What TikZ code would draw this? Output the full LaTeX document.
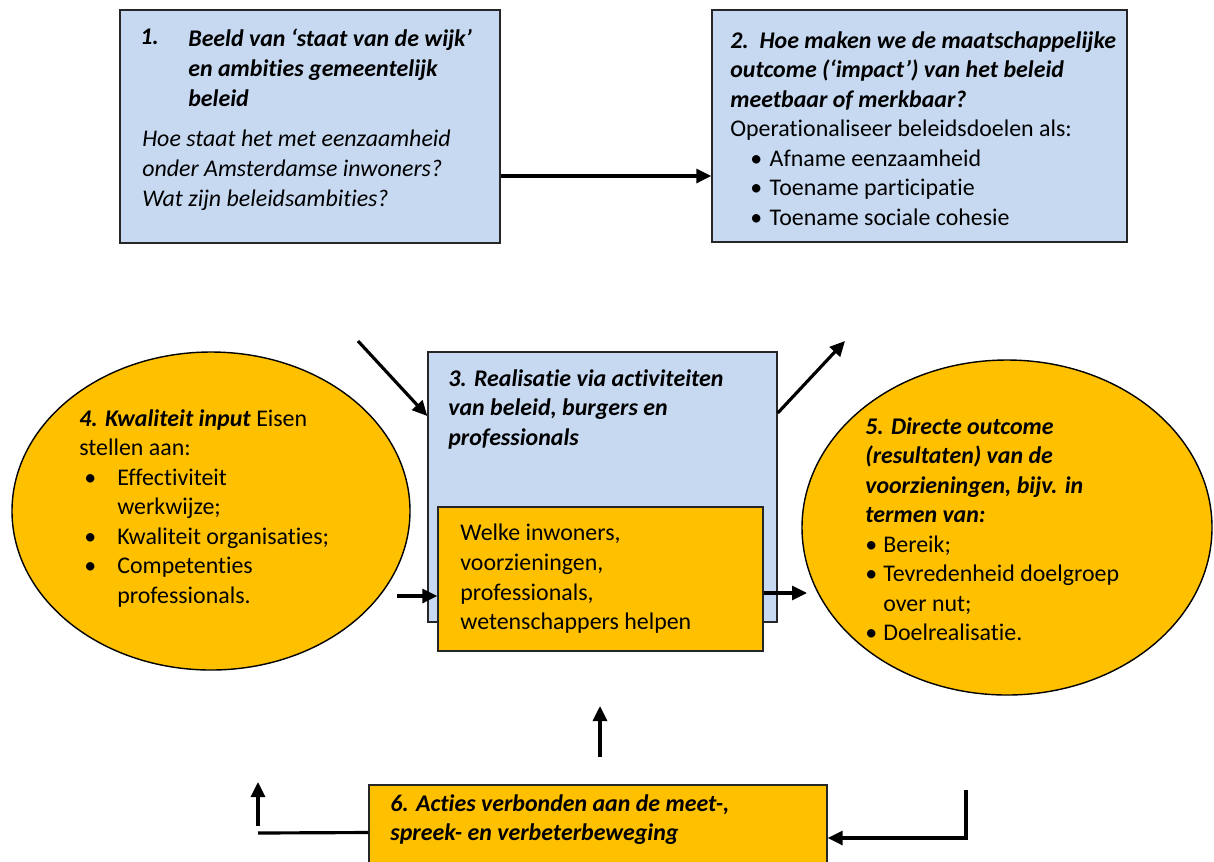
\documentclass[tikz,border=0pt]{standalone}
\usepackage{fontspec}
\setmainfont{Carlito}[Ligatures=CommonOff]
\usepackage{xcolor}
\definecolor{boxblue}{RGB}{198,217,241}
\definecolor{boxgold}{RGB}{255,192,0}
\usetikzlibrary{arrows.meta,positioning,shapes.geometric,calc}

\newcommand{\fs}{\fontsize{13.6}{16.8}\selectfont}
\newcommand{\hd}[1]{\textbf{\textit{#1}}}

\begin{document}
\begin{tikzpicture}[
    bluebox/.style={rectangle, draw=black!85, fill=boxblue, line width=0.8pt},
    goldbox/.style={rectangle, draw=black!85, fill=boxgold, line width=0.8pt},
    oval/.style={ellipse, draw=black, fill=boxgold, line width=0.8pt},
    txt/.style={anchor=north west, inner sep=0pt, align=left, font=\fs},
    arr/.style={line width=1.8pt, -{Triangle[length=0.3cm,width=0.28cm]}},
    lin/.style={line width=1.8pt}
  ]
    \useasboundingbox (0,0) rectangle (24.28,-17.22);

    % Shapes
    \node[bluebox, minimum width=7.6cm, minimum height=4.66cm] (b1) at (6.2,-2.53) {};
    \node[bluebox, minimum width=8.3cm, minimum height=4.64cm] (b2) at (18.39,-2.52) {};
    \node[bluebox, minimum width=6.98cm, minimum height=5.4cm] (b3) at (12.05,-9.74) {};
    \node[goldbox, minimum width=6.5cm, minimum height=2.88cm] (inner) at (12.01,-11.58) {};
    \node[oval, minimum width=7.96cm, minimum height=6.36cm] (e4) at (4.22,-10.22) {};
    \node[oval, minimum width=8.2cm, minimum height=6.7cm] (e5) at (20.14,-10.55) {};
    \node[goldbox, minimum width=9.16cm, minimum height=1.9cm] (b6) at (11.96,-16.65) {};

    % Texts
    \node[txt] (t1n) at (2.8,-0.58) {\hd{1.}};
    \node[txt] (t1) at (3.76,-0.58) {\hd{Beeld van `staat van de wijk'}\\
      \hd{en ambities gemeentelijk}\\ \hd{beleid}};
    \node[txt] (t1q) at (2.84,-2.6) {\textit{Hoe staat het met eenzaamheid}\\
      \textit{onder Amsterdamse inwoners?}\\ \textit{Wat zijn beleidsambities?}};
    \node[txt] (t2) at (14.6,-0.62) {\hd{2.\ \ Hoe maken we de maatschappelijke}\\
      \hd{outcome (`impact') van het beleid}\\ \hd{meetbaar of merkbaar?}\\
      Operationaliseer beleidsdoelen als:\\
      \hspace*{0.4cm}\textbullet\hspace{0.15cm}Afname eenzaamheid\\
      \hspace*{0.4cm}\textbullet\hspace{0.15cm}Toename participatie\\
      \hspace*{0.4cm}\textbullet\hspace{0.15cm}Toename sociale cohesie};
    \node[txt] (t3) at (8.96,-7.38) {\hd{3. Realisatie via activiteiten}\\
      \hd{van beleid, burgers en}\\ \hd{professionals}};
    \node[txt] (tin) at (9.2,-10.48) {Welke inwoners,\\ voorzieningen,\\
      professionals,\\ wetenschappers helpen};
    \node[txt] (t4) at (1.58,-8.18) {\hd{4. Kwaliteit input} Eisen\\ stellen aan:\\
      \hspace*{0.1cm}\makebox[0.66cm][l]{\textbullet}Effectiviteit\\
      \hspace*{0.76cm}werkwijze;\\
      \hspace*{0.1cm}\makebox[0.66cm][l]{\textbullet}Kwaliteit organisaties;\\
      \hspace*{0.1cm}\makebox[0.66cm][l]{\textbullet}Competenties\\
      \hspace*{0.76cm}professionals.};
    \node[txt] (t5) at (17.3,-8.34) {\hd{5. Directe outcome}\\
      \hd{(resultaten) van de}\\ \hd{voorzieningen, bijv. in}\\ \hd{termen van:}\\
      \makebox[0.36cm][l]{\textbullet}Bereik;\\
      \makebox[0.36cm][l]{\textbullet}Tevredenheid doelgroep\\
      \hspace*{0.36cm}over nut;\\
      \makebox[0.36cm][l]{\textbullet}Doelrealisatie.};
    \node[txt] (t6) at (7.8,-15.88) {\hd{6. Acties verbonden aan de meet-,}\\
      \hd{spreek- en verbeterbeweging}};

    % Free ends
    \coordinate (in3) at (7.16,-6.82);
    \coordinate (out3) at (16.9,-6.82);
    \coordinate (in4) at (7.94,-11.92);
    \coordinate (to5) at (16.14,-11.86);
    \coordinate (up6a) at (12,-15.14);
    \coordinate (up6b) at (12,-14.12);
    \coordinate (lft) at (5.16,-16.66);
    \coordinate (lfta) at (5.16,-16.52);
    \coordinate (lftb) at (5.16,-15.64);
    \coordinate (rgt) at (19.32,-15.8);

    % Connectors
    \draw[arr] ([yshift=-0.99cm]b1.east) -- ([yshift=-1cm]b2.west);
    \draw[arr] (in3) -- ([yshift=1.42cm]b3.west);
    \draw[arr] ([yshift=1.48cm]b3.east) -- (out3);
    \draw[arr] (in4) -- ([yshift=-0.34cm]inner.west);
    \draw[arr] ([yshift=-0.28cm]inner.east) -- (to5);
    \draw[arr] (up6a) -- (up6b);
    \draw[lin] (b6.west) -- (lft);
    \draw[arr] (lfta) -- (lftb);
    \draw[arr] (rgt) |- ([yshift=-0.11cm]b6.east);
  \end{tikzpicture}
\end{document}
